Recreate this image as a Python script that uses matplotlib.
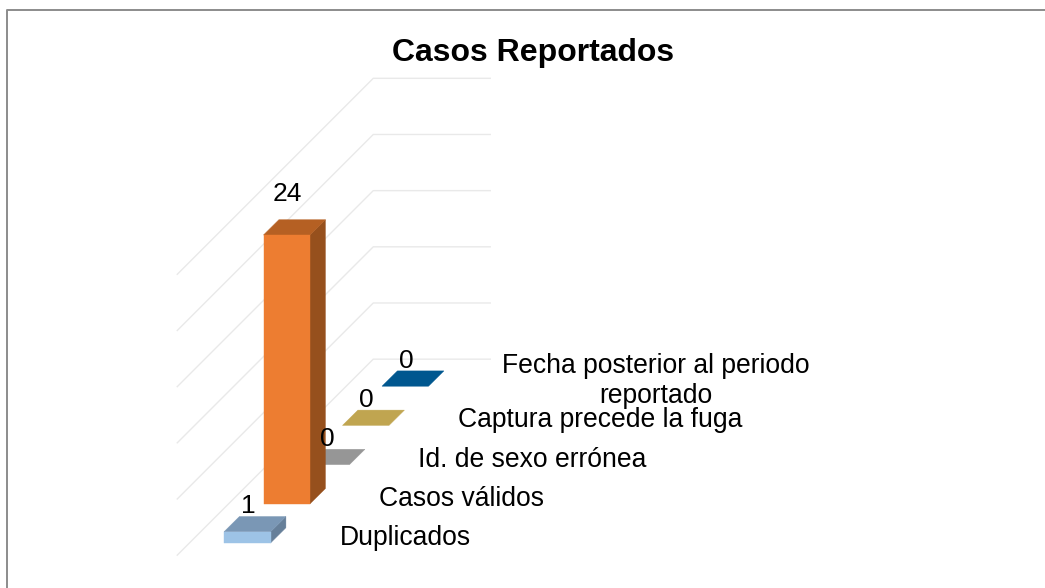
import matplotlib
matplotlib.use('Agg')
import matplotlib.pyplot as plt
from matplotlib.patches import Polygon
from matplotlib.lines import Line2D

plt.rcParams['font.family'] = ['Liberation Sans', 'DejaVu Sans']

categories = ['Duplicados', 'Casos válidos', 'Id. de sexo errónea',
              'Captura precede la fuga', 'Fecha posterior al periodo\nreportado']
values = [1, 24, 0, 0, 0]
grid_values = [0, 5, 10, 15, 20, 25]

# front, top, side colours of each bar
front_cols = ['#9DC3E6', '#ED7D31', '#A5A5A5', '#D2B55A', '#00609F']
top_cols = ['#7A97B5', '#B56023', '#969696', '#C0A550', '#00578F']
side_cols = ['#667F99', '#96501D', '#808080', '#A08A40', '#004A78']

# oblique projection, in pixels
X0, Y0 = 224.0, 543.0
DX, DY = 39.5, 39.2
UNIT = 11.2
BAR_W = 46.5
BAR_D = 0.39


def project(depth, value=0, side=0):
    return (X0 + side + depth * DX, Y0 - depth * DY - value * UNIT)


fig = plt.figure(figsize=(10.45, 5.88), dpi=100)
ax = fig.add_axes([0, 0, 1, 1])
ax.set_xlim(0, 1045)
ax.set_ylim(588, 0)
ax.axis('off')

# chart frame
fig.add_artist(Line2D([7.3 / 1045, 7.3 / 1045, 1], [0, 1 - 9.8 / 588, 1 - 9.8 / 588],
                      color='#8C8C8C', lw=1.4))

# gridlines, along the floor side and then along the back wall
for g in grid_values:
    a = project(-0.31, g * 1.003, -34.5)
    b = project(4.69, g * 1.003, -36)
    c = project(4.69, g * 1.003, 81)
    ax.plot([a[0], b[0], c[0]], [a[1], b[1], c[1]], color='#E9E9E9', lw=1, zorder=1)

# bars, back to front
for i in range(len(values) - 1, -1, -1):
    v = values[i]
    p1 = project(i, 0)
    p2 = project(i, 0, BAR_W)
    p3 = project(i, v, BAR_W)
    p4 = project(i, v)
    p5 = project(i + BAR_D, v)
    p6 = project(i + BAR_D, v, BAR_W)
    p7 = project(i + BAR_D, 0, BAR_W)
    z = 2 + (len(values) - i) * 0.1
    if i == 1:
        z = 3
    if v > 0:
        ax.add_patch(Polygon([p2, p3, p6, p7], fc=side_cols[i], ec=side_cols[i], lw=0.3, zorder=z))
    ax.add_patch(Polygon([p4, p3, p6, p5], fc=top_cols[i], ec=top_cols[i], lw=0.3, zorder=z))
    if v > 0:
        ax.add_patch(Polygon([p1, p2, p3, p4], fc=front_cols[i], ec=front_cols[i], lw=0.3, zorder=z))

# data labels
for i, v in enumerate(values):
    x, y = project(i, v, BAR_W / 2)
    dy = 41.5 if v > 20 else 25.5
    ax.text(x + 1, y - dy, str(v), fontsize=19, ha='center', va='center',
            color='black', zorder=5)

# category labels
for i, name in enumerate(categories):
    x, y = project(i, 0)
    extra = 5 if '\n' in name else 0
    ax.text(x + 115.5 + extra, y - 5, name, fontsize=19.1, ha='left', va='center',
            ma='center', color='black', linespacing=1.2, zorder=5)

ax.text(533.5, 53.5, 'Casos Reportados', fontsize=23, fontweight='bold',
        ha='center', va='center', color='black')

fig.savefig('out.png', dpi=100, facecolor='white')
